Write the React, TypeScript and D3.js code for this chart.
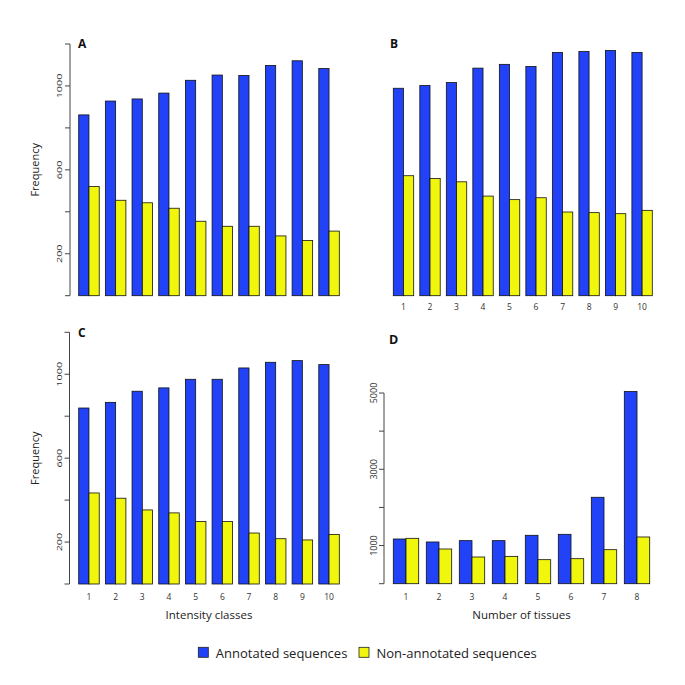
import React from "react";
import * as d3 from "d3";

const classes10 = ["1", "2", "3", "4", "5", "6", "7", "8", "9", "10"];
const tissues8 = ["1", "2", "3", "4", "5", "6", "7", "8"];

const aAnnotated = [862, 928, 938, 966, 1027, 1052, 1050, 1098, 1120, 1083];
const aNonAnnotated = [521, 455, 443, 417, 355, 331, 331, 285, 263, 308];
const bAnnotated = [989, 1002, 1016, 1085, 1103, 1093, 1160, 1164, 1169, 1160];
const bNonAnnotated = [572, 559, 543, 475, 458, 467, 399, 396, 391, 407];
const cAnnotated = [839, 866, 919, 935, 976, 976, 1030, 1057, 1065, 1046];
const cNonAnnotated = [434, 409, 353, 339, 298, 298, 243, 216, 210, 236];
const dAnnotated = [1172, 1094, 1129, 1129, 1269, 1295, 2266, 5039];
const dNonAnnotated = [1190, 910, 700, 717, 630, 656, 892, 1225];

const freqTicks = [0, 200, 400, 600, 800, 1000, 1200];
const freqLabels = [200, 600, 1000];
const tissueTicks = [0, 1000, 2000, 3000, 4000, 5000];
const tissueLabels = [1000, 3000, 5000];

const seriesNames = ["Annotated sequences", "Non-annotated sequences"];
const BLUE = "#2142f7";
const YELLOW = "#f1f70c";
const colors = [BLUE, YELLOW];

const SANS = "'Open Sans', 'DejaVu Sans', sans-serif";

type PanelProps = {
  letter: string;
  letterX: number;
  letterY: number;
  letterSize: number;
  cats: string[];
  s1: number[];
  s2: number[];
  x0: number;
  x1: number;
  y0: number;
  y1: number;
  domainMax: number;
  axis?: { x: number; ticks: number[]; labels: number[]; labelX: number; stretch: boolean; size: number };
  xLabels?: { y: number; size: number };
  ylab?: { x: number };
  xlab?: { text: string; y: number };
};

function Panel(p: PanelProps) {
  const gap = 0.6 / 2.6;
  const xg = d3.scaleBand<string>().domain(p.cats).range([p.x0, p.x1]).paddingInner(gap).paddingOuter(0);
  const xs = d3.scaleBand<number>().domain([0, 1]).range([0, xg.bandwidth()]).padding(0);
  const y = d3.scaleLinear().domain([0, p.domainMax]).range([p.y0, p.y1]);
  const series = [p.s1, p.s2];
  return (
    <g>
      <text x={p.letterX} y={p.letterY} fontFamily={SANS} fontWeight="bold" fontSize={p.letterSize} fill="#111">
        {p.letter}
      </text>
      {p.cats.map((c, i) =>
        series.map((s, k) => (
          <rect
            key={c + "-" + k}
            x={(xg(c) as number) + (xs(k) as number)}
            y={y(s[i])}
            width={xs.bandwidth()}
            height={y(0) - y(s[i])}
            fill={colors[k]}
            stroke="#111"
            strokeWidth={0.8}
          />
        ))
      )}
      {p.axis && (
        <g>
          <line
            x1={p.axis.x}
            x2={p.axis.x}
            y1={y(p.axis.ticks[0])}
            y2={y(p.axis.ticks[p.axis.ticks.length - 1])}
            stroke="#444"
            strokeWidth={1}
          />
          {p.axis.ticks.map((t) => (
            <line key={t} x1={p.axis!.x - 5} x2={p.axis!.x} y1={y(t)} y2={y(t)} stroke="#444" strokeWidth={1} />
          ))}
          {p.axis.labels.map((t) => {
            const str = String(t);
            return (
              <text
                key={t}
                transform={`translate(${p.axis!.labelX},${y(t)}) rotate(-90)`}
                textAnchor="middle"
                dominantBaseline="central"
                fontFamily={SANS}
                fontSize={p.axis!.size}
                fill="#333"
                {...(p.axis!.stretch ? { textLength: str.length * 6.2, lengthAdjust: "spacingAndGlyphs" } : {})}
              >
                {str}
              </text>
            );
          })}
        </g>
      )}
      {p.xLabels &&
        p.cats.map((c) => (
          <text
            key={"xl" + c}
            x={(xg(c) as number) + xg.bandwidth() / 2}
            y={p.xLabels!.y}
            textAnchor="middle"
            fontFamily={SANS}
            fontSize={p.xLabels!.size}
            fill="#333"
          >
            {c}
          </text>
        ))}
      {p.ylab && (
        <text
          transform={`translate(${p.ylab.x},${(p.y0 + p.y1) / 2}) rotate(-90)`}
          textAnchor="middle"
          dominantBaseline="central"
          fontFamily={SANS}
          fontSize={11}
          fill="#222"
        >
          Frequency
        </text>
      )}
      {p.xlab && (
        <text x={(p.x0 + p.x1) / 2} y={p.xlab.y} textAnchor="middle" fontFamily={SANS} fontSize={11.5} fill="#222">
          {p.xlab.text}
        </text>
      )}
    </g>
  );
}

export default function App() {
  return (
    <svg width={685} height={685} style={{ position: "absolute", left: 0, top: 0, background: "#fff" }}>
      <rect x={0} y={0} width={685} height={685} fill="#fff" />
      <Panel
        letter="A"
        letterX={78}
        letterY={48}
        letterSize={12}
        cats={classes10}
        s1={aAnnotated}
        s2={aNonAnnotated}
        x0={78.7}
        x1={339.3}
        y0={295.7}
        y1={44}
        domainMax={1200}
        axis={{ x: 70, ticks: freqTicks, labels: freqLabels, labelX: 58.5, stretch: true, size: 8 }}
        ylab={{ x: 34 }}
      />
      <Panel
        letter="B"
        letterX={390}
        letterY={47.5}
        letterSize={12}
        cats={classes10}
        s1={bAnnotated}
        s2={bNonAnnotated}
        x0={393.3}
        x1={652.3}
        y0={295.7}
        y1={44}
        domainMax={1200}
        xLabels={{ y: 310, size: 8.5 }}
      />
      <Panel
        letter="C"
        letterX={78}
        letterY={337}
        letterSize={12}
        cats={classes10}
        s1={cAnnotated}
        s2={cNonAnnotated}
        x0={78.7}
        x1={339.3}
        y0={584}
        y1={332.3}
        domainMax={1200}
        axis={{ x: 69.5, ticks: freqTicks, labels: freqLabels, labelX: 58, stretch: true, size: 8 }}
        xLabels={{ y: 600, size: 8.5 }}
        ylab={{ x: 34 }}
        xlab={{ text: "Intensity classes", y: 619 }}
      />
      <Panel
        letter="D"
        letterX={389}
        letterY={344}
        letterSize={12.5}
        cats={tissues8}
        s1={dAnnotated}
        s2={dNonAnnotated}
        x0={393.3}
        x1={649.7}
        y0={583.7}
        y1={393}
        domainMax={5000}
        axis={{ x: 384, ticks: tissueTicks, labels: tissueLabels, labelX: 373.5, stretch: false, size: 9 }}
        xLabels={{ y: 600, size: 8.5 }}
        xlab={{ text: "Number of tissues", y: 619 }}
      />
      <g>
        {seriesNames.map((name, i) => {
          const lx = i === 0 ? 198.3 : 359;
          return (
            <g key={name}>
              <rect x={lx} y={647.3} width={10} height={10} fill={colors[i]} stroke="#222" strokeWidth={0.8} />
              <text x={lx + 17.5} y={657.5} fontFamily={SANS} fontSize={13} fill="#222">
                {name}
              </text>
            </g>
          );
        })}
      </g>
    </svg>
  );
}
